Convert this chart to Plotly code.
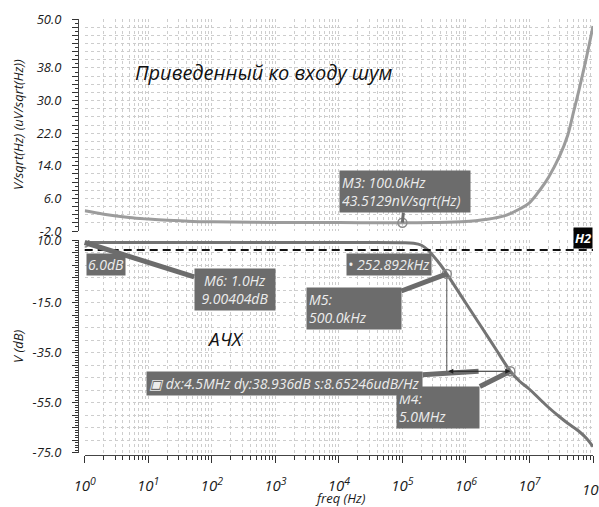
import math
import plotly.graph_objects as go

# ---------------- data ----------------
FREQ_NOISE = [1, 2, 5, 10, 20, 50, 100, 1e3, 1e4, 1e5, 3e5, 1e6, 2e6, 4e6, 7e6,
              1e7, 1.5e7, 2e7, 3e7, 4e7, 5e7, 6e7, 8e7, 1e8]
NOISE_UV = [2.95, 2.1, 1.3, 0.92, 0.62, 0.36, 0.27, 0.1, 0.055, 0.0435, 0.08, 0.3,
            0.8, 1.7, 3.4, 4.9, 8.3, 11.2, 16.5, 21.5, 27.5, 32.5, 41.0, 48.3]

FREQ_GAIN = [1, 10, 100, 1e3, 1e4, 1e5, 1.5e5, 2e5, 2.53e5, 3e5, 4e5, 5e5, 1e6, 2e6,
             3e6, 5e6, 7e6, 1e7, 1.5e7, 2e7, 3e7, 4e7, 6e7, 8e7, 1e8]
GAIN_DB = [9.0, 9.0, 9.0, 9.0, 9.0, 8.95, 8.7, 7.9, 6.0, 3.9, 0.0, -3.56, -15.3, -27.0,
           -33.9, -42.5, -46.5, -49.7, -54.0, -57.0, -60.8, -63.3, -66.5, -69.5, -72.7]

M3_FREQ, M3_VAL = 1e5, 0.0435
M6_FREQ, M6_DB = 1.0, 9.004
M5_FREQ, M5_DB = 5e5, -3.56
M4_FREQ, M4_DB = 5e6, -42.5
H2_LEVEL = 6.0
H2_CROSS_FREQ = 252892

X_DECADES = [0, 1, 2, 3, 4, 5, 6, 7, 8]
X_TICKTEXT = ["10<sup>%d</sup>" % d for d in X_DECADES]
Y_TOP_LABELS = [-2, 6, 14, 22, 30, 38, 50]
Y_BOT_LABELS = [-75, -55, -35, -15, 10]

# ---------------- style / layout helpers ----------------
FONT = "Open Sans"
GRID = "#cdcdcd"
BOX = "#6c6c6c"
BOXTXT = "#ececec"

L, R, T, B = 78, 6, 19, 52
W, H = 599 - L - R, 507 - T - B
XD0 = (84.7 - L) / W
YB0 = (455 - 452.5) / H
YB1 = (455 - 240) / H
YT0 = (455 - 231) / H

minor_x = [k * 10 ** d for d in X_DECADES[:-1] for k in range(2, 10)]
top_vals = list(range(-2, 51, 2))
top_text = ["%.1f" % v if v in Y_TOP_LABELS else "" for v in top_vals]
bot_vals = list(range(-75, 11, 5))
bot_text = ["%.1f" % v if v in Y_BOT_LABELS else "" for v in bot_vals]

tickfont_y = dict(family=FONT, size=13, color="#1a1a1a", style="italic")
tickfont_x = dict(family=FONT, size=15, color="#1a1a1a", style="italic")
boxfont = dict(family=FONT, size=14, color=BOXTXT, style="italic")

fig = go.Figure()

# noise curve (top)
fig.add_trace(go.Scatter(x=FREQ_NOISE, y=NOISE_UV, xaxis="x2", yaxis="y2", mode="lines",
                         line=dict(color="#9c9c9c", width=3, shape="spline"),
                         hoverinfo="skip"))
fig.add_trace(go.Scatter(x=[M3_FREQ], y=[M3_VAL], xaxis="x2", yaxis="y2", mode="markers",
                         marker=dict(symbol="circle-open", size=9, color="#8a8a8a",
                                     line=dict(width=1.5)), hoverinfo="skip"))

# gain curve (bottom)
fig.add_trace(go.Scatter(x=FREQ_GAIN, y=GAIN_DB, mode="lines",
                         line=dict(color="#747474", width=3, shape="spline"),
                         hoverinfo="skip"))
# delta vertical line
fig.add_trace(go.Scatter(x=[M5_FREQ, M5_FREQ], y=[M5_DB, M4_DB], mode="lines",
                         line=dict(color="#555555", width=1), hoverinfo="skip"))
fig.add_trace(go.Scatter(x=[M6_FREQ, M5_FREQ, M4_FREQ], y=[M6_DB, M5_DB, M4_DB],
                         mode="markers",
                         marker=dict(symbol="circle-open", size=9, color="#8a8a8a",
                                     line=dict(width=1.5)), hoverinfo="skip"))

# H2 dashed line
fig.add_shape(type="line", xref="x domain", yref="y", x0=0, x1=1,
              y0=H2_LEVEL, y1=H2_LEVEL, line=dict(color="#111111", width=2, dash="8px,5px"))

ann = []
lg = math.log10


def callout(text, fx, fy, ax, ay, xref="x", yref="y", align="left", aw=4, width=None):
    d = dict(text=text, x=lg(fx), y=fy, xref=xref, yref=yref, ax=ax, ay=ay,
             showarrow=True, arrowhead=0, arrowwidth=aw, arrowcolor=BOX,
             bgcolor=BOX, borderpad=2, font=boxfont, align=align, standoff=0)
    if width:
        d["width"] = width
    ann.append(d)


callout("M3: 100.0kHz<br>43.5129nV/sqrt(Hz)", M3_FREQ, M3_VAL, 3, -31,
        xref="x2", yref="y2", aw=3, width=126)
callout("M6: 1.0Hz<br>9.00404dB", M6_FREQ, M6_DB, 150, 47, align="center", aw=5, width=76)
callout("M5:<br>500.0kHz", M5_FREQ, M5_DB, -93, 35, aw=5, width=90)
callout("M4:<br>5.0MHz", M4_FREQ, M4_DB, -72, 36, aw=5, width=78)
callout("▣ dx:4.5MHz dy:38.936dB s:8.65246udB/Hz", math.sqrt(M5_FREQ * M4_FREQ), M4_DB,
        -194, 12, aw=5)

# delta double arrow
ann.append(dict(text="", x=lg(M4_FREQ), y=M4_DB, ax=lg(M5_FREQ), ay=M4_DB,
                xref="x", yref="y", axref="x", ayref="y", showarrow=True,
                arrowhead=2, arrowside="end+start", arrowsize=1, arrowwidth=1,
                arrowcolor="#222222", standoff=0, startstandoff=0))

# level labels
ann.append(dict(text="6.0dB", xref="x domain", x=0.0, xanchor="left", xshift=1,
                yref="y", y=H2_LEVEL, yanchor="top", yshift=-3, showarrow=False,
                bgcolor=BOX, borderpad=1, font=boxfont))
ann.append(dict(text="• 252.892kHz", xref="x", x=lg(H2_CROSS_FREQ), xanchor="right", xshift=4,
                yref="y", y=H2_LEVEL, yanchor="top", yshift=-3, showarrow=False,
                bgcolor=BOX, borderpad=1, font=boxfont))
ann.append(dict(text="<b>H2</b>", xref="x domain", x=1.0, xanchor="right",
                yref="y", y=H2_LEVEL, yanchor="bottom", yshift=1, showarrow=False,
                bgcolor="#050505", borderpad=1,
                font=dict(family=FONT, size=13, color="#ffffff", style="italic")))

# last decade label, clipped by the page edge as in the original
ann.append(dict(text=X_TICKTEXT[-1], xref="x", x=X_DECADES[-1], yref="paper",
                y=(455 - 488) / H, xanchor="center", yanchor="middle", showarrow=False,
                font=tickfont_x))

# titles inside plots
ann.append(dict(text="Приведенный ко входу шум", xref="paper", yref="paper",
                x=(133 - L) / W, y=(455 - 72) / H, xanchor="left", yanchor="middle",
                showarrow=False, font=dict(family=FONT, size=20, color="#111111", style="italic")))
ann.append(dict(text="АЧХ", xref="paper", yref="paper",
                x=(205 - L) / W, y=(455 - 339) / H, xanchor="left", yanchor="middle",
                showarrow=False, font=dict(family=FONT, size=19, color="#111111", style="italic")))

# axis titles
axfont = dict(family=FONT, size=13, color="#1a1a1a", style="italic")
ann.append(dict(text="V/sqrt(Hz) (uV/sqrt(Hz))", xref="paper", yref="paper",
                x=(18 - L) / W, y=(455 - 125) / H, textangle=-90, showarrow=False,
                xanchor="center", yanchor="middle", font=axfont))
ann.append(dict(text="V (dB)", xref="paper", yref="paper",
                x=(18 - L) / W, y=(455 - 346) / H, textangle=-90, showarrow=False,
                xanchor="center", yanchor="middle", font=axfont))
ann.append(dict(text="freq (Hz)", xref="paper", yref="paper",
                x=(340 - L) / W, y=(455 - 498) / H, showarrow=False,
                xanchor="center", yanchor="middle", font=axfont))

grid_common = dict(showgrid=True, gridcolor=GRID, griddash="dot", gridwidth=1, zeroline=False)

fig.update_layout(
    width=599, height=507,
    margin=dict(l=L, r=R, t=T, b=B),
    paper_bgcolor="white", plot_bgcolor="white",
    showlegend=False,
    annotations=ann,
    xaxis=dict(type="log", range=[0, 8], domain=[XD0, 1], anchor="free", position=0,
               tickvals=[10 ** d for d in X_DECADES], ticktext=X_TICKTEXT,
               tickfont=tickfont_x, ticks="outside", ticklen=7, tickcolor="#333",
               showline=True, linecolor="#444", linewidth=1, ticklabelstandoff=10,
               minor=dict(tickvals=minor_x, ticks="outside", ticklen=4, tickcolor="#333",
                          showgrid=True, gridcolor=GRID, griddash="dot"),
               **grid_common),
    xaxis2=dict(type="log", range=[0, 8], domain=[XD0, 1], anchor="y2", matches="x",
                tickvals=[10 ** d for d in X_DECADES], showticklabels=False, ticks="",
                showline=False,
                minor=dict(tickvals=minor_x, ticks="", showgrid=True, gridcolor=GRID,
                           griddash="dot"),
                **grid_common),
    yaxis=dict(range=[-75, 10], domain=[YB0, YB1], anchor="free", position=0,
               tickvals=bot_vals, ticktext=bot_text, tickfont=tickfont_y,
               ticks="outside", ticklen=6, tickcolor="#333", showline=True,
               linecolor="#444", ticklabelstandoff=8,
               minor=dict(dtick=1, ticks="outside", ticklen=3, tickcolor="#333",
                          showgrid=False),
               **grid_common),
    yaxis2=dict(range=[-2, 50], domain=[YT0, 1], anchor="free", position=0,
                tickvals=top_vals, ticktext=top_text, tickfont=tickfont_y,
                ticks="outside", ticklen=6, tickcolor="#333", showline=True,
                linecolor="#444", ticklabelstandoff=8,
                minor=dict(dtick=1, ticks="outside", ticklen=3, tickcolor="#333",
                           showgrid=False),
                **grid_common),
)

fig.write_html("out.html")
